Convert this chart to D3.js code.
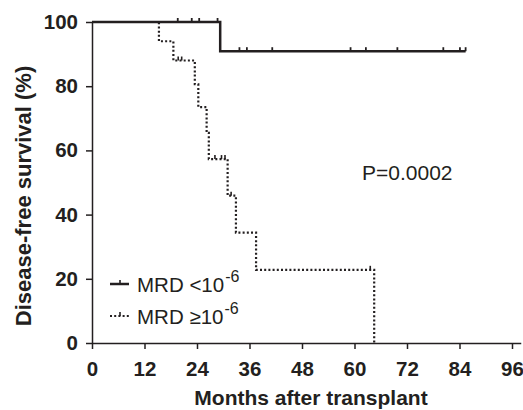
<!DOCTYPE html>
<html>
<head>
<meta charset="utf-8">
<script src="https://cdn.jsdelivr.net/npm/d3@7"></script>
<style>
  body { margin: 0; background: #fff; }
  svg { display: block; font-family: "Liberation Sans", Arial, Helvetica, sans-serif; }
</style>
</head>
<body>
<svg id="chart"></svg>
<script>
// Kaplan-Meier steps (months, % disease-free)
const lowTimes = [0, 29.3, 85.4];
const lowSurv = [100, 90.9, 90.9];
const lowCensor = [19.6, 22.8, 24.5, 28.7, 33.7, 35.4, 41.2, 59.1, 62.6, 69.8, 80.3, 84.1, 85.4];

const highTimes = [0, 15.3, 18.6, 23.5, 24.3, 26.2, 26.7, 31.0, 32.9, 37.5, 64.5];
const highSurv = [100, 94, 88, 80.6, 73.5, 65.5, 57.3, 45.9, 34.4, 22.8, 0];
const highCensor = [19.7, 20.5, 28.1, 29.6, 30.4, 31.8, 63.6];

const xTicks = [0, 12, 24, 36, 48, 60, 72, 84, 96];
const yTicks = [0, 20, 40, 60, 80, 100];

const width = 523, height = 410;
const ink = '#231f20';

const svg = d3.select('#chart')
  .attr('width', width)
  .attr('height', height);

const x = d3.scaleLinear().domain([0, 98]).range([92, 92 + 98 * 4.375]);
const y = d3.scaleLinear().domain([0, 100]).range([343, 22]);

// step value at time t
function survAt(times, surv, t) {
  let v = surv[0];
  times.forEach((tt, i) => { if (tt <= t) v = surv[i]; });
  return v;
}

const line = d3.line()
  .x(d => x(d[0]))
  .y(d => y(d[1]))
  .curve(d3.curveStepAfter);

// axes
const xAxis = svg.append('g')
  .attr('transform', `translate(0,${y(0)})`)
  .call(d3.axisBottom(x).tickValues(xTicks).tickSize(6).tickPadding(12).tickSizeOuter(0));

const yAxis = svg.append('g')
  .attr('transform', `translate(${x(0)},0)`)
  .call(d3.axisLeft(y).tickValues(yTicks).tickSize(6).tickPadding(8).tickSizeOuter(0));

[xAxis, yAxis].forEach(g => {
  g.selectAll('path, line').attr('stroke', ink).attr('stroke-width', 1.5);
  g.selectAll('text')
    .attr('fill', ink)
    .style('font-size', '20.5px')
    .style('font-weight', 'bold')
    .style('font-family', '"Liberation Sans", Arial, sans-serif');
});

// curves
const highData = highTimes.map((t, i) => [t, highSurv[i]]);
const lowData = lowTimes.map((t, i) => [t, lowSurv[i]]);

svg.append('path')
  .attr('d', line(highData))
  .attr('fill', 'none')
  .attr('stroke', ink)
  .attr('stroke-width', 2.2)
  .attr('stroke-dasharray', '2,2.2');

svg.append('path')
  .attr('d', line(lowData))
  .attr('fill', 'none')
  .attr('stroke', ink)
  .attr('stroke-width', 2.5);

// censor marks
svg.selectAll('.cl')
  .data(lowCensor)
  .join('line')
  .attr('x1', d => x(d)).attr('x2', d => x(d))
  .attr('y1', d => y(survAt(lowTimes, lowSurv, d)))
  .attr('y2', d => y(survAt(lowTimes, lowSurv, d)) - 4)
  .attr('stroke', ink)
  .attr('stroke-width', 1.8);

svg.selectAll('.ch')
  .data(highCensor)
  .join('line')
  .attr('x1', d => x(d)).attr('x2', d => x(d))
  .attr('y1', d => y(survAt(highTimes, highSurv, d)))
  .attr('y2', d => y(survAt(highTimes, highSurv, d)) - 4)
  .attr('stroke', ink)
  .attr('stroke-width', 1.6);

// axis titles
svg.append('text')
  .attr('x', 311).attr('y', 405)
  .attr('text-anchor', 'middle')
  .attr('fill', ink)
  .style('font-size', '21px').style('font-weight', 'bold')
  .text('Months after transplant');

svg.append('text')
  .attr('transform', 'translate(31,196) rotate(-90)')
  .attr('text-anchor', 'middle')
  .attr('fill', ink)
  .style('font-size', '22px').style('font-weight', 'bold')
  .text('Disease-free survival (%)');

// p-value
svg.append('text')
  .attr('x', 362).attr('y', 180)
  .attr('fill', ink)
  .style('font-size', '21px')
  .text('P=0.0002');

// legend
const legend = [
  { label: 'MRD <10', dash: null, y: 284 },
  { label: 'MRD \u226510', dash: '2,2.2', y: 316 },
];
legend.forEach(l => {
  svg.append('line')
    .attr('x1', 110).attr('x2', 129)
    .attr('y1', l.y).attr('y2', l.y)
    .attr('stroke', ink)
    .attr('stroke-width', l.dash ? 2.2 : 2.5)
    .attr('stroke-dasharray', l.dash);
  svg.append('line')
    .attr('x1', 120).attr('x2', 120)
    .attr('y1', l.y).attr('y2', l.y - 4)
    .attr('stroke', ink).attr('stroke-width', 1.6);
  const t = svg.append('text')
    .attr('x', 137).attr('y', l.y + 8)
    .attr('fill', ink)
    .style('font-size', '20.5px');
  t.append('tspan').text(l.label);
  t.append('tspan')
    .attr('dx', 1)
    .attr('dy', -10)
    .style('font-size', '16px')
    .text('-6');
});
</script>
</body>
</html>
